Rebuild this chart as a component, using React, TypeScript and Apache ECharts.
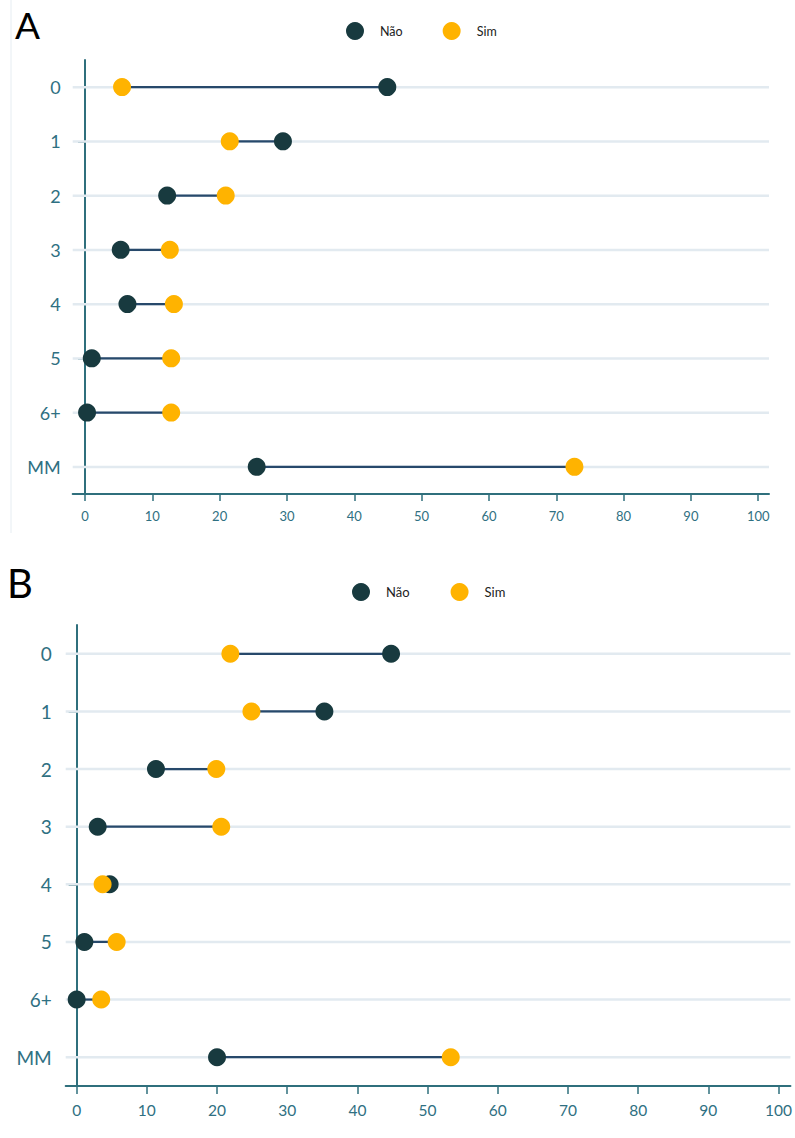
import React, { useEffect, useRef } from "react";
import * as echarts from "echarts";

const categories = ["0", "1", "2", "3", "4", "5", "6+", "MM"];
const naoA = [44.9, 29.4, 12.2, 5.3, 6.3, 1.0, 0.3, 25.5];
const simA = [5.5, 21.5, 20.9, 12.6, 13.2, 12.8, 12.8, 72.7];
const naoB = [44.8, 35.3, 11.3, 3.0, 4.7, 1.1, 0.0, 20.0];
const simB = [21.9, 24.9, 19.9, 20.6, 3.7, 5.7, 3.5, 53.3];
const xTicks = [0, 10, 20, 30, 40, 50, 60, 70, 80, 90, 100];
const legendNames = ["Não", "Sim"];
const panelLabels = ["A", "B"];

const FONT = 'Lato, "Open Sans", sans-serif';
const DARK = "#183a3f";
const ORANGE = "#ffb300";
const AXIS = "#2f6f7c";
const LABEL = "#2f7082";
const GRIDLINE = "#e2eaf0";
const CONNECT = "#27496b";

function connectorSeries(nao: number[], sim: number[], gridIndex: number) {
  return {
    type: "custom",
    xAxisIndex: gridIndex,
    yAxisIndex: gridIndex,
    silent: true,
    z: 1,
    encode: { x: [0, 1], y: 2 },
    data: nao.map((v, i) => [v, sim[i], i]),
    renderItem: (params: any, api: any) => {
      const cs = params.coordSys;
      const a = api.coord([api.value(0), api.value(2)]);
      const b = api.coord([api.value(1), api.value(2)]);
      return {
        type: "group",
        children: [
          {
            type: "line",
            shape: { x1: cs.x, y1: a[1], x2: cs.x + cs.width, y2: a[1] },
            style: { stroke: GRIDLINE, lineWidth: 2.5 },
          },
          {
            type: "line",
            shape: { x1: a[0], y1: a[1], x2: b[0], y2: b[1] },
            style: { stroke: CONNECT, lineWidth: 2.2 },
          },
        ],
      };
    },
  };
}

function dotSeries(name: string, vals: number[], gridIndex: number, color: string) {
  return {
    name,
    type: "scatter",
    xAxisIndex: gridIndex,
    yAxisIndex: gridIndex,
    symbol: "circle",
    symbolSize: 18,
    z: 3,
    itemStyle: { color, opacity: 1 },
    data: vals.map((v, i) => [v, categories[i]]),
  };
}

function xAxis(gridIndex: number, min: number, max: number, fontSize: number, tickLen: number, margin: number) {
  return {
    type: "value",
    gridIndex,
    min,
    max,
    axisLine: { show: true, lineStyle: { color: AXIS, width: 2 } },
    axisTick: { show: true, customValues: xTicks, length: tickLen, lineStyle: { color: AXIS, width: 1.5 } },
    axisLabel: { customValues: xTicks, color: LABEL, fontSize, fontFamily: FONT, margin },
    splitLine: { show: false },
  };
}

function yAxis(gridIndex: number, fontSize: number, tickLen: number, margin: number) {
  return {
    type: "category",
    gridIndex,
    data: categories,
    inverse: true,
    boundaryGap: true,
    axisLine: { show: true, lineStyle: { color: AXIS, width: 2 } },
    axisTick: { show: true, alignWithLabel: true, length: tickLen, lineStyle: { color: AXIS, width: 1.5 } },
    axisLabel: { color: LABEL, fontSize, fontFamily: FONT, margin },
    splitLine: { show: false },
  };
}

export default function App() {
  const ref = useRef<HTMLDivElement>(null);
  useEffect(() => {
    if (!ref.current) return;
    const chart = echarts.init(ref.current, undefined, { renderer: "svg" });
    chart.setOption({
      animation: false,
      backgroundColor: "#ffffff",
      textStyle: { fontFamily: FONT },
      grid: [
        { left: 72.7, top: 60, width: 696.3, height: 434, containLabel: false },
        { left: 65.7, top: 625, width: 727.3, height: 461, containLabel: false },
      ],
      legend: [
        {
          data: legendNames,
          left: 346,
          top: 22,
          padding: 0,
          icon: "circle",
          itemWidth: 18,
          itemHeight: 18,
          itemGap: 40,
          textStyle: { color: "#222", fontSize: 12.5, fontFamily: FONT, padding: [0, 0, 0, 11] },
          selectedMode: false,
        },
        {
          data: legendNames,
          left: 352,
          top: 583,
          padding: 0,
          icon: "circle",
          itemWidth: 18,
          itemHeight: 18,
          itemGap: 41,
          textStyle: { color: "#222", fontSize: 13, fontFamily: FONT, padding: [0, 0, 0, 11] },
          selectedMode: false,
        },
      ],
      xAxis: [xAxis(0, -1.83, 101.6, 13, 7, 15), xAxis(1, -1.56, 101.7, 15.5, 8, 16)],
      yAxis: [yAxis(0, 18, 7, 12), yAxis(1, 19, 8, 14)],
      series: [
        connectorSeries(naoA, simA, 0),
        dotSeries(legendNames[0], naoA, 0, DARK),
        dotSeries(legendNames[1], simA, 0, ORANGE),
        connectorSeries(naoB, simB, 1),
        dotSeries(legendNames[0], naoB, 1, DARK),
        dotSeries(legendNames[1], simB, 1, ORANGE),
      ],
      graphic: [
        {
          type: "line",
          shape: { x1: 11, y1: 0, x2: 11, y2: 533 },
          style: { stroke: "#e6edf2", lineWidth: 1 },
          silent: true,
        },
        {
          type: "text",
          x: 15,
          y: 24,
          style: {
            text: panelLabels[0],
            fontSize: 37,
            fontFamily: FONT,
            fill: "#000",
            verticalAlign: "middle",
            align: "left",
          },
        },
        {
          type: "text",
          x: 7,
          y: 583,
          style: {
            text: panelLabels[1],
            fontSize: 40,
            lineHeight: 36,
            fontFamily: FONT,
            fill: "#000",
            verticalAlign: "middle",
            align: "left",
          },
        },
      ],
    });
    return () => chart.dispose();
  }, []);
  return (
    <div
      ref={ref}
      style={{ position: "fixed", left: 0, top: 0, width: 795, height: 1138, background: "#fff" }}
    />
  );
}
